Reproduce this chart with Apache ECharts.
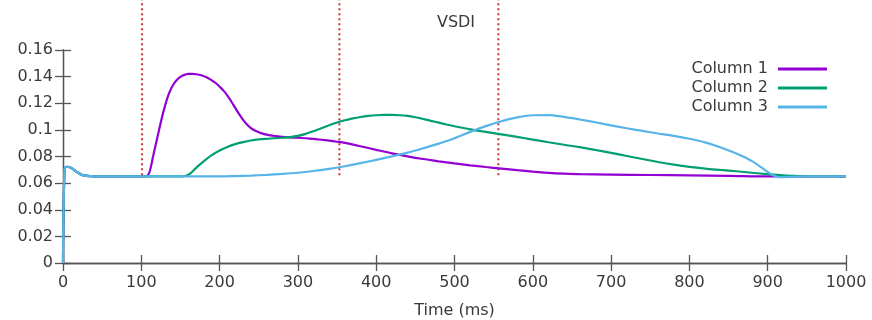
<!DOCTYPE html>
<html>
<head>
<meta charset="utf-8">
<script src="https://cdn.jsdelivr.net/npm/echarts@6/dist/echarts.min.js"></script>
<style>html,body{margin:0;padding:0;background:#fff}#c{width:872px;height:320px}</style>
</head>
<body>
<div id="c"></div>
<script>
var seriesNames = ['Column 1', 'Column 2', 'Column 3'];
var xTicks = [0, 100, 200, 300, 400, 500, 600, 700, 800, 900, 1000];
var yTicks = [0, 0.02, 0.04, 0.06, 0.08, 0.1, 0.12, 0.14, 0.16];

var c1Time  = [0, 2, 5, 10, 17, 25, 35, 50, 100, 105, 110, 115, 120, 125, 130, 135, 140, 145, 150, 155, 160, 165, 170, 175, 180, 185, 190, 195, 200, 205, 210, 215, 220, 225, 230, 235, 240, 245, 250, 255, 260, 270, 280, 290, 300, 310, 320, 330, 340, 350, 360, 380, 400, 420, 440, 460, 480, 500, 520, 540, 560, 580, 600, 620, 640, 660, 700, 750, 800, 850, 900, 1000];
var c1Value = [0, 0.071, 0.0723, 0.0715, 0.0686, 0.066, 0.0652, 0.065, 0.065, 0.065, 0.0675, 0.080, 0.093, 0.106, 0.1175, 0.1268, 0.1332, 0.1373, 0.1398, 0.1413, 0.142, 0.1421, 0.1418, 0.1412, 0.1403, 0.139, 0.1372, 0.1352, 0.1325, 0.1295, 0.1258, 0.1213, 0.1165, 0.1118, 0.1075, 0.104, 0.1013, 0.0995, 0.0982, 0.0972, 0.0964, 0.0954, 0.0948, 0.0944, 0.0941, 0.0937, 0.0932, 0.0926, 0.0919, 0.0911, 0.0902, 0.0877, 0.085, 0.0824, 0.0801, 0.0781, 0.0764, 0.0748, 0.0734, 0.0721, 0.0709, 0.0697, 0.0686, 0.0677, 0.0671, 0.0667, 0.0664, 0.0661, 0.0658, 0.0655, 0.065, 0.065];

var c2Time  = [0, 2, 5, 10, 17, 25, 35, 50, 100, 150, 155, 162, 170, 180, 190, 200, 210, 220, 230, 240, 250, 260, 270, 280, 290, 300, 310, 320, 330, 340, 350, 360, 370, 380, 390, 400, 410, 420, 430, 440, 450, 460, 470, 480, 490, 500, 520, 540, 560, 580, 600, 620, 640, 660, 680, 700, 720, 740, 760, 780, 800, 820, 840, 860, 880, 900, 920, 940, 960, 1000];
var c2Value = [0, 0.071, 0.0723, 0.0715, 0.0686, 0.066, 0.0652, 0.065, 0.065, 0.065, 0.0652, 0.067, 0.0715, 0.0765, 0.081, 0.0845, 0.0872, 0.0893, 0.0908, 0.092, 0.0928, 0.0933, 0.0937, 0.0941, 0.0946, 0.0955, 0.097, 0.099, 0.1012, 0.1035, 0.1055, 0.1072, 0.1086, 0.1097, 0.1105, 0.111, 0.1112, 0.1112, 0.111, 0.1105, 0.1095, 0.1082, 0.1068, 0.1054, 0.104, 0.1027, 0.1004, 0.0985, 0.0966, 0.0947, 0.0927, 0.0907, 0.0888, 0.087, 0.0849, 0.0827, 0.0804, 0.0781, 0.0759, 0.0739, 0.0722, 0.0709, 0.0699, 0.0689, 0.0678, 0.0667, 0.0658, 0.0653, 0.065, 0.065];

var c3Time  = [0, 2, 5, 10, 17, 25, 35, 50, 100, 150, 200, 220, 240, 260, 280, 300, 320, 340, 360, 380, 400, 420, 440, 460, 480, 500, 520, 540, 560, 580, 600, 620, 640, 660, 680, 700, 720, 740, 760, 780, 800, 820, 840, 860, 880, 895, 905, 915, 930, 950, 1000];
var c3Value = [0, 0.071, 0.0723, 0.0715, 0.0686, 0.066, 0.0652, 0.065, 0.065, 0.065, 0.065, 0.0653, 0.0657, 0.0662, 0.0669, 0.0678, 0.0691, 0.0707, 0.0727, 0.075, 0.0775, 0.0801, 0.0829, 0.0862, 0.0897, 0.0937, 0.0985, 0.1028, 0.1065, 0.1094, 0.111, 0.1111, 0.1097, 0.1078, 0.1057, 0.1034, 0.1012, 0.0992, 0.0973, 0.0955, 0.0933, 0.0906, 0.0868, 0.0822, 0.0765, 0.0705, 0.0665, 0.0645, 0.0647, 0.065, 0.065];

var markerTimes = [101, 353, 556];
var markerRange = [0.066, 0.2];

var colors = ['#9400d3', '#009e73', '#56b4e9'];
var txt = '#3a3a3a';
var axisCol = '#555555';
var font = 'DejaVu Sans';

function pairs(t, v) { return t.map(function (x, i) { return [x, v[i]]; }); }

var series = [];
markerTimes.forEach(function (t) {
  series.push({
    type: 'line', data: markerRange.map(function (v) { return [t, v]; }),
    symbol: 'none', clip: false, silent: true, z: 1,
    lineStyle: { color: '#cc3333', width: 2, type: [2, 3] }
  });
});
[[c1Time, c1Value], [c2Time, c2Value], [c3Time, c3Value]].forEach(function (d, i) {
  series.push({
    name: seriesNames[i], type: 'line', data: pairs(d[0], d[1]),
    symbol: 'none', smooth: 0.3, z: 3 + i,
    lineStyle: { color: colors[i], width: 2.2 }, itemStyle: { color: colors[i] }
  });
});

var chart = echarts.init(document.getElementById('c'), null, { renderer: 'canvas' });
chart.setOption({
  animation: false,
  backgroundColor: '#ffffff',
  title: { text: 'VSDI', left: 451, top: 10, textAlign: 'center',
    textStyle: { fontFamily: font, fontSize: 16, fontWeight: 'normal', color: txt } },
  legend: {
    data: seriesNames, orient: 'vertical', right: 40, top: 56, align: 'right',
    icon: 'rect', itemWidth: 49, itemHeight: 3, itemGap: 3,
    textStyle: { fontFamily: font, fontSize: 16, color: txt, padding: [0, 5, 0, 0] }
  },
  grid: { left: 63, right: 26, top: 50, bottom: 57, containLabel: false, outerBoundsMode: 'none' },
  xAxis: [{
    type: 'value', min: 0, max: 1000, interval: 100, position: 'bottom',
    name: 'Time (ms)', nameLocation: 'middle', nameGap: 40,
    nameTextStyle: { fontFamily: font, fontSize: 16, color: txt },
    axisLine: { lineStyle: { color: axisCol, width: 1.3 } },
    axisTick: { inside: true, length: 8, lineStyle: { color: axisCol, width: 1.3 } },
    axisLabel: { fontFamily: font, fontSize: 16, color: txt, margin: 12,
      formatter: function (v) { return xTicks.indexOf(v) >= 0 ? String(v) : ''; } },
    splitLine: { show: false }
  }, {
    type: 'value', min: 0, max: 1000, interval: 100, position: 'top',
    axisLine: { lineStyle: { color: axisCol, width: 1.3 } },
    axisTick: { inside: true, length: 8, lineStyle: { color: axisCol, width: 1.3 } },
    axisLabel: { show: false }, splitLine: { show: false }
  }],
  yAxis: [{
    type: 'value', min: 0, max: 0.16, interval: 0.02, position: 'left',
    axisLine: { show: true, lineStyle: { color: axisCol, width: 1.3 } },
    axisTick: { show: true, inside: true, length: 8, lineStyle: { color: axisCol, width: 1.3 } },
    axisLabel: { fontFamily: font, fontSize: 16, color: txt, margin: 10,
      formatter: function (v) {
        var r = Math.round(v * 100) / 100;
        for (var i = 0; i < yTicks.length; i++) if (Math.abs(yTicks[i] - r) < 1e-9) return String(yTicks[i]);
        return '';
      } },
    splitLine: { show: false }
  }, {
    type: 'value', min: 0, max: 0.16, interval: 0.02, position: 'right',
    axisLine: { show: true, lineStyle: { color: axisCol, width: 1.3 } },
    axisTick: { show: true, inside: true, length: 8, lineStyle: { color: axisCol, width: 1.3 } },
    axisLabel: { show: false }, splitLine: { show: false }
  }],
  series: series
});
</script>
</body>
</html>
